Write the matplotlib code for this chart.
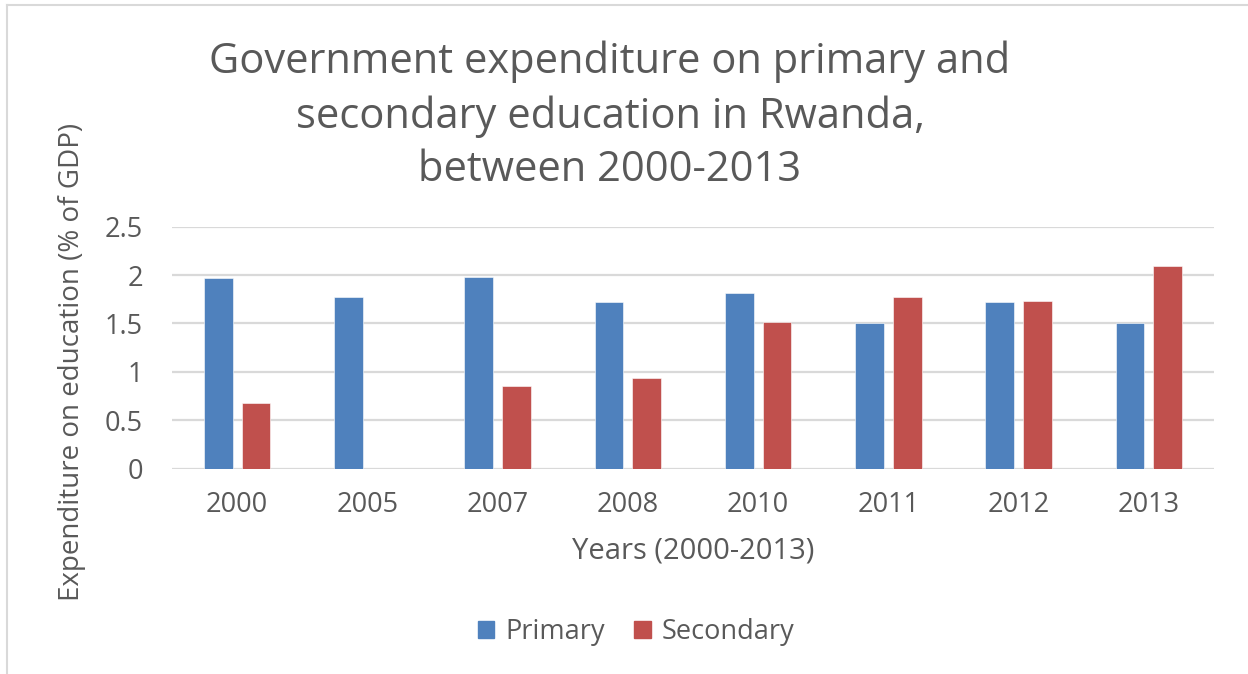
import numpy as np
import matplotlib.pyplot as plt
from matplotlib.lines import Line2D

plt.rcParams['font.family'] = ['Open Sans', 'DejaVu Sans']

years = ['2000', '2005', '2007', '2008', '2010', '2011', '2012', '2013']
primary = [1.97, 1.77, 1.98, 1.72, 1.81, 1.50, 1.72, 1.51]
secondary = [0.68, 0.0, 0.85, 0.94, 1.52, 1.77, 1.73, 2.09]

BLUE = '#4f81bd'
RED = '#c0504d'
TEXT = '#595959'
GRID = '#d9d9d9'

W, H = 1248, 674
fig = plt.figure(figsize=(W / 100, H / 100), dpi=100)
ax = fig.add_axes([172 / W, 1 - 468.7 / H, (1214 - 172) / W, (468.7 - 226.7) / H])

x = np.arange(len(years))
bw = 0.22
ax.bar(x - 0.145, primary, bw, color=BLUE, edgecolor='#ffffff', linewidth=0.4,
       label='Primary', zorder=3)
ax.bar(x + 0.145, secondary, bw, color=RED, edgecolor='#ffffff', linewidth=0.4,
       label='Secondary', zorder=3)

ax.set_xlim(-0.5, len(years) - 0.5)
ax.set_ylim(0, 2.5)
ax.set_yticks([0, 0.5, 1, 1.5, 2, 2.5])
ax.set_yticklabels(['0', '0.5', '1', '1.5', '2', '2.5'])
ax.set_xticks(x)
ax.set_xticklabels(years)
ax.yaxis.grid(True, color=GRID, linewidth=1.6, zorder=0)
ax.set_axisbelow(True)
for s in ax.spines.values():
    s.set_visible(False)
ax.tick_params(axis='both', length=0, labelsize=19.5, labelcolor=TEXT)
ax.tick_params(axis='x', pad=16)
ax.tick_params(axis='y', pad=21)

ax.set_xlabel('Years (2000-2013)', fontsize=21, color=TEXT, labelpad=13)
fig.text(72 / W, 1 - 362 / H, 'Expenditure on education (% of GDP)', rotation=90,
         ha='center', va='center', fontsize=20, color=TEXT)

fig.text(610 / W, 1 - 116 / H,
         'Government expenditure on primary and\nsecondary education in Rwanda,\nbetween 2000-2013',
         ha='center', va='center', fontsize=30, color=TEXT, linespacing=1.37)

handles = [plt.Rectangle((0, 0), 1, 1, color=BLUE), plt.Rectangle((0, 0), 1, 1, color=RED)]
fig.legend(handles, ['Primary', 'Secondary'], loc='center', ncol=2,
           bbox_to_anchor=(636 / W, 1 - 632 / H), frameon=False, fontsize=19.5,
           labelcolor=TEXT, handlelength=0.6, handleheight=0.6, handletextpad=0.4,
           columnspacing=1.1)

# chart frame (top and left edges visible)
fig.add_artist(Line2D([7 / W, 1], [1 - 5 / H, 1 - 5 / H], color=GRID, linewidth=1.5))
fig.add_artist(Line2D([7 / W, 7 / W], [1 - 5 / H, 0.002], color=GRID, linewidth=1.5))

fig.savefig('out.png', dpi=100, facecolor='white')
